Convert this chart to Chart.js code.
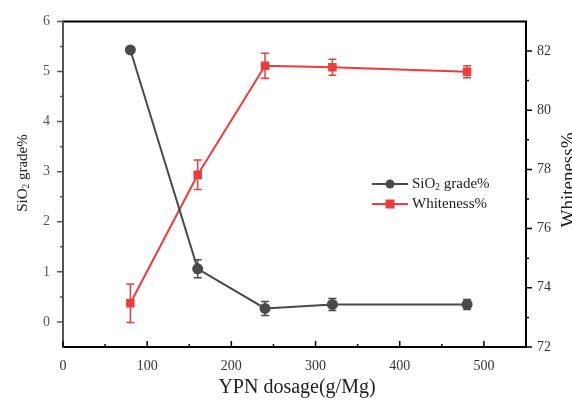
<!DOCTYPE html>
<html>
<head>
<meta charset="utf-8">
<script src="https://cdn.jsdelivr.net/npm/chart.js@4.4.0/dist/chart.umd.min.js"></script>
<style>
  html, body { margin: 0; padding: 0; background: #fff; }
</style>
</head>
<body>
<canvas id="chart1" width="572" height="403"></canvas>
<script>
// data
const dosage = [80, 160, 240, 320, 480];
const sio2Grade = [5.43, 1.06, 0.27, 0.35, 0.35];
const sio2Err = [0.04, 0.18, 0.14, 0.12, 0.10];
const whiteness = [73.48, 77.82, 81.50, 81.45, 81.30];
const whitenessErr = [0.65, 0.50, 0.42, 0.27, 0.20];

const xTicks = [0, 100, 200, 300, 400, 500];
const xMinor = [50, 150, 250, 350, 450];
const leftTicks = [0, 1, 2, 3, 4, 5, 6];
const leftMinor = [0.5, 1.5, 2.5, 3.5, 4.5, 5.5];
const rightTicks = [72, 74, 76, 78, 80, 82];
const rightMinor = [73, 75, 77, 79, 81];

const GRAY = '#4a4a4a';
const RED = '#ef3b3b';
const SERIF = '"Liberation Serif", "Times New Roman", serif';

function subText(ctx, x, y, parts, size) {
  // parts: [[text, isSub], ...]
  let cx = x;
  parts.forEach(p => {
    if (p[1]) {
      ctx.font = (size * 0.62) + 'px ' + SERIF;
      ctx.fillText(p[0], cx, y + size * 0.25);
    } else {
      ctx.font = size + 'px ' + SERIF;
      ctx.fillText(p[0], cx, y);
    }
    cx += ctx.measureText(p[0]).width;
  });
  return cx - x;
}
function subWidth(ctx, parts, size) {
  let w = 0;
  parts.forEach(p => {
    ctx.font = (p[1] ? size * 0.62 : size) + 'px ' + SERIF;
    w += ctx.measureText(p[0]).width;
  });
  return w;
}

const errorBars = {
  id: 'errorBars',
  beforeDatasetsDraw(chart) {
    const ctx = chart.ctx;
    const x = chart.scales.x;
    const sets = [
      [chart.scales.y, sio2Grade, sio2Err, GRAY],
      [chart.scales.y1, whiteness, whitenessErr, RED]
    ];
    ctx.save();
    ctx.lineWidth = 1.5;
    sets.forEach(s => {
      ctx.strokeStyle = s[3];
      dosage.forEach((d, i) => {
        const px = x.getPixelForValue(d);
        const top = s[0].getPixelForValue(s[1][i] + s[2][i]);
        const bot = s[0].getPixelForValue(s[1][i] - s[2][i]);
        ctx.beginPath();
        ctx.moveTo(px, top); ctx.lineTo(px, bot);
        ctx.moveTo(px - 4, top); ctx.lineTo(px + 4, top);
        ctx.moveTo(px - 4, bot); ctx.lineTo(px + 4, bot);
        ctx.stroke();
      });
    });
    ctx.restore();
  }
};

const frame = {
  id: 'frame',
  afterDraw(chart) {
    const ctx = chart.ctx;
    const a = chart.chartArea;
    const x = chart.scales.x, yl = chart.scales.y, yr = chart.scales.y1;
    ctx.save();
    ctx.lineCap = 'square';
    // box
    ctx.lineWidth = 2;
    ctx.strokeStyle = '#000';
    ctx.beginPath();
    ctx.moveTo(a.left, a.top); ctx.lineTo(a.right, a.top);
    ctx.moveTo(a.right, a.top); ctx.lineTo(a.right, a.bottom);
    ctx.moveTo(a.left, a.bottom); ctx.lineTo(a.right, a.bottom);
    ctx.stroke();
    ctx.strokeStyle = '#555';
    ctx.beginPath();
    ctx.moveTo(a.left, a.top); ctx.lineTo(a.left, a.bottom);
    ctx.stroke();

    // ticks
    ctx.lineCap = 'butt';
    ctx.lineWidth = 1.5;
    ctx.strokeStyle = '#555';
    ctx.beginPath();
    leftTicks.forEach(v => { const p = yl.getPixelForValue(v); ctx.moveTo(a.left, p); ctx.lineTo(a.left - 6, p); });
    leftMinor.forEach(v => { const p = yl.getPixelForValue(v); ctx.moveTo(a.left, p); ctx.lineTo(a.left - 3, p); });
    ctx.stroke();
    ctx.strokeStyle = '#000';
    ctx.beginPath();
    rightTicks.forEach(v => { const p = yr.getPixelForValue(v); ctx.moveTo(a.right, p); ctx.lineTo(a.right + 6, p); });
    rightMinor.forEach(v => { const p = yr.getPixelForValue(v); ctx.moveTo(a.right, p); ctx.lineTo(a.right + 3, p); });
    xTicks.forEach(v => { const p = x.getPixelForValue(v); ctx.moveTo(p, a.bottom); ctx.lineTo(p, a.bottom - 6); });
    xMinor.forEach(v => { const p = x.getPixelForValue(v); ctx.moveTo(p, a.bottom); ctx.lineTo(p, a.bottom - 3); });
    ctx.stroke();

    // axis titles
    ctx.fillStyle = '#222';
    ctx.textBaseline = 'middle';
    ctx.textAlign = 'center';
    ctx.font = '20px ' + SERIF;
    ctx.fillText('YPN dosage(g/Mg)', 297, 388);

    ctx.textAlign = 'left';
    const leftParts = [['SiO', false], ['2', true], [' grade%', false]];
    ctx.save();
    ctx.translate(23, 173);
    ctx.rotate(-Math.PI / 2);
    subText(ctx, -subWidth(ctx, leftParts, 15) / 2, 0, leftParts, 15);
    ctx.restore();

    ctx.save();
    ctx.translate(574, 180);
    ctx.rotate(-Math.PI / 2);
    ctx.textAlign = 'center';
    ctx.textBaseline = 'alphabetic';
    ctx.font = '19px ' + SERIF;
    ctx.fillText('Whiteness%', 0, 0);
    ctx.restore();

    // legend
    const rows = [
      [184, GRAY, 'circle', [['SiO', false], ['2', true], [' grade%', false]]],
      [204, RED, 'square', [['Whiteness%', false]]]
    ];
    rows.forEach(r => {
      ctx.strokeStyle = r[1];
      ctx.fillStyle = r[1];
      ctx.lineWidth = 2;
      ctx.beginPath();
      ctx.moveTo(372, r[0]); ctx.lineTo(408, r[0]);
      ctx.stroke();
      ctx.beginPath();
      if (r[2] === 'circle') ctx.arc(390, r[0], 4.5, 0, Math.PI * 2);
      else ctx.rect(385.5, r[0] - 4.5, 9, 9);
      ctx.fill();
      ctx.fillStyle = '#222';
      ctx.textAlign = 'left';
      subText(ctx, 412, r[0], r[3], 15);
    });
    ctx.restore();
  }
};

const tickFont = { family: SERIF, size: 14 };

new Chart(document.getElementById('chart1'), {
  type: 'line',
  data: {
    datasets: [{
      label: 'SiO2 grade%',
      data: dosage.map((d, i) => ({ x: d, y: sio2Grade[i] })),
      yAxisID: 'y',
      borderColor: GRAY,
      backgroundColor: GRAY,
      borderWidth: 2,
      pointStyle: 'circle',
      pointRadius: 5.5,
      pointBorderWidth: 0,
      tension: 0
    }, {
      label: 'Whiteness%',
      data: dosage.map((d, i) => ({ x: d, y: whiteness[i] })),
      yAxisID: 'y1',
      borderColor: RED,
      backgroundColor: RED,
      borderWidth: 2,
      pointStyle: 'rect',
      pointRadius: 6,
      pointBorderWidth: 0,
      tension: 0
    }]
  },
  options: {
    responsive: false,
    animation: false,
    devicePixelRatio: 1,
    layout: { padding: { top: 17, left: 0, right: 0, bottom: 0 } },
    plugins: { legend: { display: false }, tooltip: { enabled: false } },
    scales: {
      x: {
        type: 'linear', position: 'bottom', min: 0, max: 550,
        afterBuildTicks: s => { s.ticks = xTicks.map(v => ({ value: v })); },
        afterFit: s => { s.height = 56; },
        grid: { display: false, drawTicks: false }, border: { display: false },
        ticks: { font: tickFont, color: '#333', padding: 11 }
      },
      y: {
        position: 'left', min: -0.5, max: 6,
        afterBuildTicks: s => { s.ticks = leftTicks.map(v => ({ value: v })); },
        afterFit: s => { s.width = 63; },
        grid: { display: false, drawTicks: false }, border: { display: false },
        ticks: { font: tickFont, color: '#555', padding: 13 }
      },
      y1: {
        position: 'right', min: 72, max: 83,
        afterBuildTicks: s => { s.ticks = rightTicks.map(v => ({ value: v })); },
        afterFit: s => { s.width = 46; },
        grid: { display: false, drawTicks: false }, border: { display: false },
        ticks: { font: tickFont, color: '#333', padding: 11 }
      }
    }
  },
  plugins: [errorBars, frame]
});
</script>
</body>
</html>
